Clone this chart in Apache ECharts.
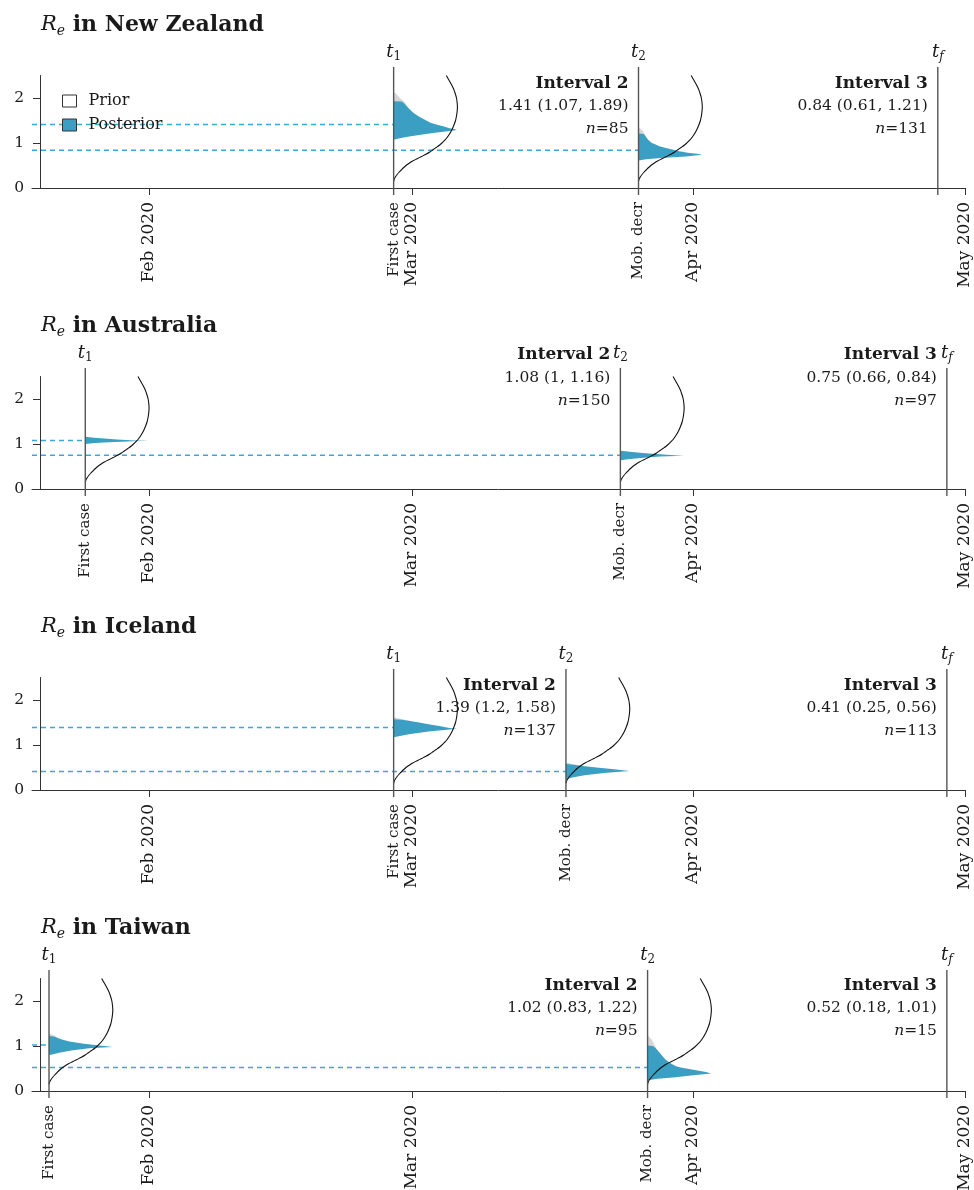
<!DOCTYPE html>
<html><head><meta charset="utf-8">
<script src="https://cdn.jsdelivr.net/npm/echarts@6/dist/echarts.min.js"></script>
<style>html,body{margin:0;padding:0;background:#fff}#c{width:974px;height:1190px}</style>
</head><body><div id="c"></div>
<script>
// ---------------- data ----------------
const countries = ['New Zealand', 'Australia', 'Iceland', 'Taiwan'];
const monthTicks = ['2020-02-01', '2020-03-01', '2020-04-01', '2020-05-01'];
const monthLabels = ['Feb 2020', 'Mar 2020', 'Apr 2020', 'May 2020'];
const firstCaseDates = ['2020-02-28', '2020-01-25', '2020-02-28', '2020-01-21'];
const mobilityDecrDates = ['2020-03-26', '2020-03-24', '2020-03-18', '2020-03-27'];
const finalDates = ['2020-04-28', '2020-04-29', '2020-04-29', '2020-04-29'];
const eventLabels = ['First case', 'Mob. decr'];
const yTicks = [0, 1, 2];

const interval2Mean = [1.41, 1.08, 1.39, 1.02];
const interval2Lo = [1.07, 1, 1.2, 0.83];
const interval2Hi = [1.89, 1.16, 1.58, 1.22];
const interval2N = [85, 150, 137, 95];
const interval3Mean = [0.84, 0.75, 0.41, 0.52];
const interval3Lo = [0.61, 0.66, 0.25, 0.18];
const interval3Hi = [1.21, 0.84, 0.56, 1.01];
const interval3N = [131, 97, 113, 15];

// prior density (R value, relative density)
const priorR = [0.15, 0.20, 0.25, 0.30, 0.35, 0.40, 0.45, 0.50, 0.55, 0.60, 0.65, 0.70, 0.75, 0.80, 0.85, 0.90, 0.95, 1.00, 1.10, 1.20, 1.30, 1.40, 1.50, 1.60, 1.70, 1.80, 1.90, 2.00, 2.10, 2.20, 2.30, 2.40, 2.50];
const priorDensity = [0.00, 0.01, 0.03, 0.055, 0.085, 0.12, 0.155, 0.195, 0.245, 0.30, 0.37, 0.44, 0.51, 0.57, 0.62, 0.67, 0.72, 0.76, 0.83, 0.88, 0.92, 0.95, 0.975, 0.99, 1.00, 1.005, 1.00, 0.99, 0.97, 0.945, 0.91, 0.87, 0.83];

// posterior densities: [R, relative density]
const postNZ2 = [[1.07,0],[1.10,0.08],[1.14,0.22],[1.18,0.40],[1.22,0.62],[1.26,0.85],[1.29,1.0],[1.31,0.95],[1.33,0.88],[1.37,0.78],[1.40,0.70],[1.45,0.58],[1.51,0.50],[1.58,0.41],[1.66,0.32],[1.74,0.26],[1.81,0.21],[1.87,0.17],[1.92,0.13],[1.93,0]];
const postNZ3 = [[0.61,0],[0.64,0.12],[0.67,0.40],[0.70,0.75],[0.74,1.0],[0.76,0.92],[0.78,0.80],[0.82,0.62],[0.85,0.55],[0.89,0.43],[0.93,0.33],[0.97,0.26],[1.00,0.21],[1.06,0.16],[1.11,0.13],[1.17,0.10],[1.20,0.08],[1.21,0]];
const postAU2 = [[1.00,0],[1.02,0.15],[1.04,0.38],[1.06,0.75],[1.07,1.0],[1.08,0.78],[1.10,0.50],[1.12,0.30],[1.14,0.14],[1.16,0]];
const postAU3 = [[0.64,0],[0.66,0.12],[0.69,0.32],[0.72,0.62],[0.74,1.0],[0.75,0.85],[0.77,0.62],[0.80,0.35],[0.83,0.15],[0.85,0]];
const postIS2 = [[1.17,0],[1.19,0.06],[1.24,0.24],[1.30,0.55],[1.36,1.0],[1.38,0.88],[1.42,0.72],[1.46,0.55],[1.50,0.40],[1.53,0.28],[1.56,0.13],[1.57,0]];
const postIS3 = [[0.24,0],[0.28,0.10],[0.33,0.29],[0.38,0.60],[0.42,1.0],[0.44,0.90],[0.47,0.68],[0.50,0.48],[0.53,0.30],[0.55,0.19],[0.57,0.05],[0.58,0]];
const postTW2 = [[0.80,0],[0.81,0.05],[0.85,0.16],[0.90,0.35],[0.95,0.63],[0.98,1.0],[1.00,0.87],[1.05,0.55],[1.10,0.32],[1.15,0.19],[1.19,0.12],[1.21,0.08],[1.22,0]];
const postTW3 = [[0.24,0],[0.27,0.16],[0.30,0.40],[0.35,0.72],[0.39,1.0],[0.42,0.92],[0.47,0.72],[0.52,0.52],[0.55,0.45],[0.60,0.38],[0.65,0.33],[0.70,0.28],[0.75,0.25],[0.85,0.19],[0.95,0.13],[1.00,0.08],[1.01,0]];
// faint grey tails above the posteriors
const greyNZ2 = [[1.80,0.22],[1.90,0.18],[2.00,0.10],[2.08,0.05],[2.14,0]];
const greyNZ3 = [[1.15,0.11],[1.22,0.09],[1.28,0.06],[1.35,0]];
const greyIS2 = [[1.52,0.30],[1.57,0.14],[1.60,0.05],[1.62,0]];
const greyIS3 = [[0.55,0.20],[0.58,0.10],[0.61,0]];
const greyTW2 = [[1.18,0.12],[1.22,0.10],[1.25,0.05],[1.28,0]];
const greyTW3 = [[0.95,0.14],[1.05,0.10],[1.15,0.06],[1.24,0]];

const posteriorProfiles = [[postNZ2, postNZ3], [postAU2, postAU3], [postIS2, postIS3], [postTW2, postTW3]];
const greyProfiles = [[greyNZ2, greyNZ3], [[], []], [greyIS2, greyIS3], [greyTW2, greyTW3]];

// ---------------- layout / style ----------------
const DAY = 86400000;
const X_MIN = Date.parse('2020-01-19T03:00:00Z');
const X_MAX = Date.parse('2020-05-01T00:00:00Z');
const GRID_LEFT = 32, GRID_RIGHT = 9, GRID_TOP0 = 75.5, PANEL_STEP = 301, GRID_H = 112.5;
const Y_MAX = 2.5, TLINE_TOP = 2.69, TLABEL_Y = 3.02;
const ANNOT_Y = [2.33, 2.98, 2.33, 2.35];
const DENS_DAYS = 7.0;
const FONT = 'DejaVu Serif';
const POST_COLOR = '#3a9fc3', DASH_COLOR = '#3aa8da', GREY = '#d6d6d6';
const TLINE_COLOR = '#555', AXIS_COLOR = '#333', TEXT_COLOR = '#1a1a1a';

const monthTs = monthTicks.map(d => Date.parse(d));
const ts = arr => arr.map(d => Date.parse(d));
const t1s = ts(firstCaseDates), t2s = ts(mobilityDecrDates), tfs = ts(finalDates);

function profilePoints(api, t, prof) {
  const pts = [api.coord([t, prof[0][0]])];
  prof.forEach(p => pts.push(api.coord([t + p[1] * DENS_DAYS * DAY, p[0]])));
  pts.push(api.coord([t, prof[prof.length - 1][0]]));
  return pts;
}

const series = [];
countries.forEach((c, i) => {
  const axes = { coordinateSystem: 'cartesian2d', xAxisIndex: i, yAxisIndex: i, clip: false, silent: true, animation: false };
  // dashed mean lines
  series.push(Object.assign({
    type: 'custom', name: 'dash' + i,
    data: [[t1s[i], interval2Mean[i]], [t2s[i], interval3Mean[i]]],
    renderItem(params, api) {
      const a = api.coord([X_MIN, api.value(1)]);
      const b = api.coord([api.value(0), api.value(1)]);
      return { type: 'line', shape: { x1: a[0], y1: a[1], x2: b[0], y2: b[1] },
        style: { stroke: DASH_COLOR, lineWidth: 1.5, lineDash: [5, 4] } };
    }
  }, axes));
  // posterior
  series.push(Object.assign({
    type: 'custom', name: 'Posterior',
    itemStyle: { color: POST_COLOR },
    data: [[t1s[i], 0, 0], [t2s[i], 0, 1]],
    renderItem(params, api) {
      const t = api.value(0), k = params.dataIndex;
      const children = [];
      const g = greyProfiles[i][k];
      if (g.length) {
        children.push({ type: 'polygon', shape: { points: profilePoints(api, t, g) }, style: { fill: GREY } });
      }
      children.push({ type: 'polygon', shape: { points: profilePoints(api, t, posteriorProfiles[i][k]) },
        style: { fill: POST_COLOR } });
      return { type: 'group', children };
    }
  }, axes));
  // prior
  series.push(Object.assign({
    type: 'custom', name: 'Prior',
    itemStyle: { color: '#fff' },
    data: [[t1s[i], 0], [t2s[i], 0]],
    renderItem(params, api) {
      const t = api.value(0);
      const pts = priorR.map((r, j) => api.coord([t + priorDensity[j] * DENS_DAYS * DAY, r]));
      return { type: 'polyline', shape: { points: pts, smooth: 0.25 }, style: { stroke: '#111', lineWidth: 1.1, fill: null } };
    }
  }, axes));
  // event lines, labels, annotations
  series.push(Object.assign({
    type: 'custom', name: 'marks' + i,
    data: [[t1s[i], 0, 0], [t2s[i], 0, 1], [tfs[i], 0, 2]],
    renderItem(params, api) {
      const t = api.value(0), k = params.dataIndex;
      const top = api.coord([t, TLINE_TOP]);
      const bot = api.coord([t, 0]);
      const lab = api.coord([t, TLABEL_Y]);
      const children = [
        { type: 'line', shape: { x1: top[0], y1: top[1], x2: bot[0], y2: bot[1] + 7 },
          style: { stroke: TLINE_COLOR, lineWidth: 1.4 } },
        { type: 'text', x: lab[0], y: lab[1],
          style: { text: '{t|t}{s|' + ['1', '2', 'f'][k] + '}', align: 'center', verticalAlign: 'middle',
            rich: {
              t: { fontFamily: FONT, fontStyle: 'italic', fontSize: 18, lineHeight: 22, verticalAlign: 'middle', fill: TEXT_COLOR, color: TEXT_COLOR },
              s: { fontFamily: FONT, fontStyle: k === 2 ? 'italic' : 'normal', fontSize: 12, lineHeight: 12, verticalAlign: 'bottom', fill: TEXT_COLOR, color: TEXT_COLOR }
            } } }
      ];
      if (k < 2) {
        children.push({ type: 'text', x: bot[0], y: bot[1] + 14, rotation: Math.PI / 2,
          style: { text: eventLabels[k], align: 'right', verticalAlign: 'middle', fontFamily: FONT, fontSize: 15, fill: TEXT_COLOR } });
      }
      if (k >= 1) {
        const m = k === 1 ? interval2Mean[i] : interval3Mean[i];
        const lo = k === 1 ? interval2Lo[i] : interval3Lo[i];
        const hi = k === 1 ? interval2Hi[i] : interval3Hi[i];
        const n = k === 1 ? interval2N[i] : interval3N[i];
        const a = api.coord([t, ANNOT_Y[i]]);
        children.push({ type: 'text', x: a[0] - 10, y: a[1] - 11.5,
          style: {
            text: '{b|Interval ' + (k + 1) + '}\n{r|' + m + ' (' + lo + ', ' + hi + ')}\n{i|n}{r|=' + n + '}',
            align: 'right', verticalAlign: 'top',
            rich: {
              b: { fontFamily: FONT, fontWeight: 'bold', fontSize: 17, lineHeight: 23, fill: TEXT_COLOR, color: TEXT_COLOR },
              r: { fontFamily: FONT, fontSize: 15.5, lineHeight: 23, fill: TEXT_COLOR, color: TEXT_COLOR },
              i: { fontFamily: FONT, fontStyle: 'italic', fontSize: 15.5, lineHeight: 23, fill: TEXT_COLOR, color: TEXT_COLOR }
            } } });
      }
      return { type: 'group', children };
    }
  }, axes));
});

const option = {
  animation: false,
  backgroundColor: '#fff',
  title: countries.map((c, i) => ({
    left: 36, top: 7 + i * PANEL_STEP,
    text: '{r|R}{s|e}{b| in ' + c + '}',
    textStyle: {
      fontWeight: 'normal',
      rich: {
        r: { fontFamily: FONT, fontStyle: 'italic', fontWeight: 'normal', fontSize: 21, lineHeight: 26, verticalAlign: 'middle', color: TEXT_COLOR },
        s: { fontFamily: FONT, fontStyle: 'italic', fontWeight: 'normal', fontSize: 14, lineHeight: 13, verticalAlign: 'bottom', color: TEXT_COLOR },
        b: { fontFamily: FONT, fontWeight: 'bold', fontSize: 22, lineHeight: 26, verticalAlign: 'middle', color: TEXT_COLOR }
      }
    }
  })),
  legend: {
    left: 57, top: 86, orient: 'vertical', itemWidth: 14, itemHeight: 12, itemGap: 4, selectedMode: false,
    textStyle: { fontFamily: FONT, fontSize: 16, color: TEXT_COLOR, lineHeight: 20, padding: [0, 0, 0, 7] },
    data: [
      { name: 'Prior', icon: 'rect', itemStyle: { color: '#fff', borderColor: '#333', borderWidth: 1 } },
      { name: 'Posterior', icon: 'rect', itemStyle: { color: POST_COLOR, borderColor: '#333', borderWidth: 1 } }
    ]
  },
  grid: countries.map((c, i) => ({ left: GRID_LEFT, right: GRID_RIGHT, top: GRID_TOP0 + i * PANEL_STEP, height: GRID_H, outerBoundsMode: 'none', containLabel: false })),
  xAxis: countries.map((c, i) => ({
    gridIndex: i, type: 'value', min: X_MIN, max: X_MAX,
    axisLine: { onZero: false, lineStyle: { color: AXIS_COLOR, width: 1 } },
    splitLine: { show: false },
    axisTick: { customValues: monthTs, length: 7, lineStyle: { color: AXIS_COLOR } },
    axisLabel: {
      customValues: monthTs, rotate: 90, margin: 14, fontFamily: FONT, fontSize: 17, color: TEXT_COLOR,
      formatter: v => { const j = monthTs.findIndex(m => Math.abs(m - v) < 1000); return j >= 0 ? monthLabels[j] : ''; }
    }
  })),
  yAxis: countries.map((c, i) => ({
    gridIndex: i, type: 'value', min: 0, max: Y_MAX, offset: -8,
    axisLine: { show: true, onZero: false, lineStyle: { color: AXIS_COLOR, width: 1 } },
    splitLine: { show: false },
    axisTick: { show: true, customValues: yTicks, length: 7, lineStyle: { color: AXIS_COLOR } },
    axisLabel: { customValues: yTicks, margin: 16, fontFamily: FONT, fontSize: 15.5, color: TEXT_COLOR }
  })),
  series
};

const chart = echarts.init(document.getElementById('c'), null, { renderer: 'canvas' });
chart.setOption(option);
</script>
</body></html>
